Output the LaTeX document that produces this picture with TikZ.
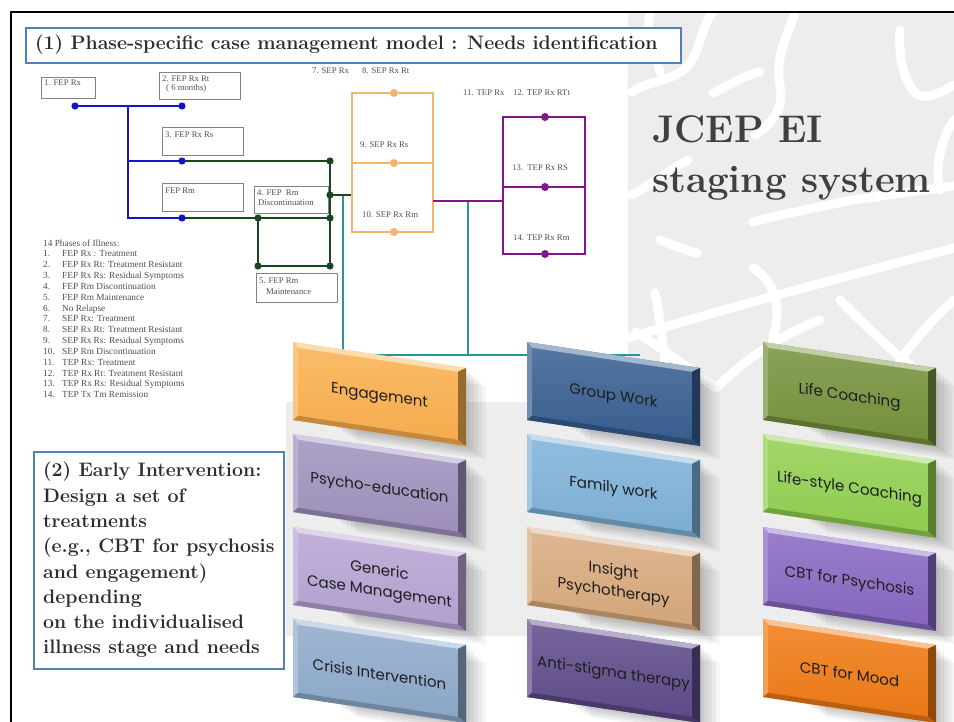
\documentclass[tikz,border=0pt]{standalone}
\usepackage{fontspec}
\newfontfamily\timesfont{Liberation Serif}
\newfontfamily\tilefont{Poppins}
\usetikzlibrary{calc}

\definecolor{backgray}{RGB}{237,237,237}
\definecolor{boxblue}{RGB}{79,129,189}
\definecolor{headtxt}{RGB}{45,45,45}
\definecolor{jcepgray}{RGB}{64,64,64}
\definecolor{phgray}{RGB}{80,80,80}
\definecolor{boxgray}{RGB}{130,130,130}
\definecolor{lineblue}{RGB}{20,20,200}
\definecolor{linegreen}{RGB}{25,70,30}
\definecolor{lineorange}{RGB}{245,180,110}
\definecolor{linepurple}{RGB}{130,20,140}
\definecolor{lineteal}{RGB}{40,150,150}
\definecolor{tiletxt}{RGB}{30,30,30}
% tile colours
\definecolor{cEngage}{RGB}{251,176,78}
\definecolor{cGroup}{RGB}{56,95,145}
\definecolor{cLife}{RGB}{118,146,60}
\definecolor{cPsyEdu}{RGB}{160,146,190}
\definecolor{cFamily}{RGB}{126,178,216}
\definecolor{cLifeStyle}{RGB}{146,208,80}
\definecolor{cGeneric}{RGB}{183,164,212}
\definecolor{cInsight}{RGB}{216,170,125}
\definecolor{cCbtPsy}{RGB}{136,104,194}
\definecolor{cCrisis}{RGB}{142,170,203}
\definecolor{cAnti}{RGB}{95,75,138}
\definecolor{cCbtMood}{RGB}{240,122,20}

\tikzset{
  framerule/.style={draw=black, line width=2.6pt},
  bluebox/.style={draw=boxblue, line width=2pt, fill=white, anchor=north west, inner sep=0pt},
  headtext/.style={font=\bfseries\fontsize{19.5}{25.3}\selectfont, text=headtxt, inner sep=0pt},
  phbox/.style={draw=boxgray, line width=0.9pt, fill=white, anchor=north west, inner sep=0pt},
  phtext/.style={font=\timesfont\fontsize{8.7}{10}\selectfont, text=phgray, anchor=base west, inner sep=0pt},
  legtext/.style={font=\timesfont\fontsize{9.3}{11}\selectfont, text=phgray, anchor=base west, inner sep=0pt},
  blueline/.style={draw=lineblue, line width=2.4pt},
  greenline/.style={draw=linegreen, line width=2.8pt},
  orangeline/.style={draw=lineorange, line width=2.4pt},
  purpleline/.style={draw=linepurple, line width=2.4pt},
  tealline/.style={draw=lineteal, line width=2pt},
  brainline/.style={draw=white, line width=9pt, line cap=round, line join=round},
  tiletext/.style={font=\tilefont\fontsize{15}{21}\selectfont, text=tiletxt, align=center, inner sep=0pt},
  jceptext/.style={font=\bfseries\fontsize{38.5}{50}\selectfont, text=jcepgray, anchor=base west, inner sep=0pt},
}

% bevelled, slanted treatment tile: name, left x, top y, colour, label
\newcommand{\tilebox}[5]{%
  \begin{scope}[shift={(#2,#3)}, yslant=-0.15]
    \foreach \k in {3,6,9,12,15}
      \fill[black, opacity=0.045] (40+\k*1.5,\k) rectangle (173+\k*1.3,78+\k*0.7);
    \shade[top color=#4!85!white, bottom color=#4!97!black] (0,0) rectangle (173,78);
    \fill[#4!45!white] (0,0) -- (173,0) -- (165,5) -- (5,5) -- cycle;
    \fill[#4!72!white] (0,0) -- (5,5) -- (5,73) -- (0,78) -- cycle;
    \fill[#4!60!black] (173,0) -- (173,78) -- (165,73) -- (165,5) -- cycle;
    \fill[#4!78!black] (0,78) -- (173,78) -- (165,73) -- (5,73) -- cycle;
    \node[tiletext, transform shape] (#1) at (86.5,42) {#5};
  \end{scope}}

\begin{document}
\begin{tikzpicture}[x=1pt,y=-1pt]
\useasboundingbox (0,0) rectangle (954,722);
\fill[white] (0,0) rectangle (954,722);

% grey backdrop with the white brain outline
\fill[backgray] (628,13) -- (954,13) -- (954,636) -- (286,636) -- (286,402) -- (628,402) -- cycle;
\begin{scope}
  \clip (628,13) -- (954,13) -- (954,636) -- (286,636) -- (286,402) -- (628,402) -- cycle;
  \draw[brainline] (632,92) .. controls (650,80) and (672,82) .. (688,66) .. controls (700,52) and (700,30) .. (712,13);
  \draw[brainline] (660,72) .. controls (655,50) and (645,35) .. (650,13);
  \draw[brainline] (713,93) .. controls (730,85) and (745,75) .. (760,72);
  \draw[brainline] (795,13) .. controls (785,40) and (775,60) .. (780,85) .. controls (785,110) and (770,125) .. (755,135);
  \draw[brainline] (900,30) .. controls (898,60) and (905,85) .. (918,95) .. controls (930,100) and (945,90) .. (954,85);
  \draw[brainline] (954,120) .. controls (940,140) and (935,170) .. (940,190);
  \draw[brainline] (632,195) .. controls (650,185) and (670,170) .. (688,160);
  \draw[brainline] (660,240) .. controls (672,245) and (685,250) .. (697,253);
  \draw[brainline] (753,222) .. controls (790,212) and (830,205) .. (853,200) .. controls (890,195) and (920,190) .. (954,186);
  \draw[brainline] (753,268) .. controls (770,278) and (782,300) .. (775,330) .. controls (770,345) and (772,360) .. (780,370);
  \draw[brainline] (628,338) .. controls (720,310) and (850,275) .. (954,248);
  \draw[brainline] (655,293) .. controls (660,315) and (662,340) .. (665,360);
  \draw[brainline] (636,332) .. controls (665,350) and (690,370) .. (716,388);
  \draw[brainline] (716,388) .. controls (745,360) and (780,335) .. (820,320);
  \draw[brainline] (840,300) .. controls (870,330) and (900,360) .. (930,380);
  \draw[brainline] (954,300) .. controls (920,330) and (890,370) .. (870,410);
\end{scope}

% slide frame
\coordinate (fr-tr) at (954,12);
\coordinate (fr-tl) at (11,12);
\coordinate (fr-bl) at (11,722);
\draw[framerule] (fr-tr) -- (fr-tl) -- (fr-bl);

% heading (1)
\node[bluebox, minimum width=655pt, minimum height=35pt] (titlebox) at (25,27) {};
\node[headtext, anchor=base west] (title) at (35,49.5) {(1) Phase-specific case management model : Needs identification};

% phase boxes
\node[phbox, minimum width=54pt, minimum height=21pt] (ph1) at (41,77) {};
\node[phtext] (ph1t) at (44,86) {1. FEP Rx};
\node[phbox, minimum width=81pt, minimum height=27pt] (ph2) at (159,72) {};
\node[phtext] (ph2t) at (162,82) {2. FEP Rx Rt};
\node[phtext] (ph2u) at (166,91) {( 6 months)};
\node[phbox, minimum width=81pt, minimum height=28pt] (ph3) at (162,127) {};
\node[phtext] (ph3t) at (165,138) {3. FEP Rx Rs};
\node[phbox, minimum width=81pt, minimum height=28pt] (phm) at (162,183) {};
\node[phtext] (phmt) at (165,194) {FEP Rm};
\node[phbox, minimum width=74pt, minimum height=27pt] (ph4) at (254,186) {};
\node[phtext] (ph4t) at (257,196) {4. FEP\ \ Rm};
\node[phtext] (ph4u) at (258,206) {Discontinuation};
\node[phbox, minimum width=81pt, minimum height=29pt] (ph5) at (256,273) {};
\node[phtext] (ph5t) at (259,284) {5. FEP Rm};
\node[phtext] (ph5u) at (266,295) {Maintenance};

% phase labels
\node[phtext] (s7) at (312,73.5) {7. SEP Rx};
\node[phtext] (s8) at (362,73.5) {8. SEP Rx Rt};
\node[phtext] (s9) at (360,148) {9. SEP Rx Rs};
\node[phtext] (s10) at (362,218) {10. SEP Rx Rm};
\node[phtext] (t11) at (463,96) {11. TEP Rx};
\node[phtext] (t12) at (513,96) {12. TEP Rx RTt};
\node[phtext] (t13) at (512,171) {13.\ \ TEP Rx RS};
\node[phtext] (t14) at (513,241) {14. TEP Rx Rm};

% junction points
\coordinate (b1) at (75,106);
\coordinate (b2) at (182,106);
\coordinate (bj) at (128,106);
\coordinate (bj3) at (128,161);
\coordinate (b3) at (182,161);
\coordinate (bj4) at (128,218);
\coordinate (b4) at (182,218);
\coordinate (g1) at (330,161);
\coordinate (g2) at (330,195);
\coordinate (g3) at (330,218);
\coordinate (g4) at (258,218);
\coordinate (g5) at (258,266);
\coordinate (g6) at (330,266);
\coordinate (gx) at (352,195);
\coordinate (o-tl) at (352,93);
\coordinate (o-br) at (433,232);
\coordinate (o-ml) at (352,163);
\coordinate (o-mr) at (433,163);
\coordinate (o1) at (394,93);
\coordinate (o2) at (394,163);
\coordinate (o3) at (394,232);
\coordinate (o-r) at (433,201);
\coordinate (p-l) at (503,201);
\coordinate (p-tl) at (503,117);
\coordinate (p-br) at (585,254);
\coordinate (p-ml) at (503,187);
\coordinate (p-mr) at (585,187);
\coordinate (p1) at (545,117);
\coordinate (p2) at (545,187);
\coordinate (p3) at (545,254);
\coordinate (t-a) at (343,195);
\coordinate (t-b) at (343,355);
\coordinate (t-c) at (640,355);
\coordinate (t-d) at (468,201);
\coordinate (t-e) at (468,355);

% teal link down to the treatment tiles
\draw[tealline] (t-a) -- (t-b) -- (t-c);
\draw[tealline] (t-d) -- (t-e);

% first episode (blue / green)
\draw[blueline] (b1) -- (b2);
\draw[blueline] (bj) -- (bj4) -- (b4);
\draw[blueline] (bj3) -- (b3);
\draw[greenline] (b3) -- (g1) -- (g6) -- (g5) -- (g4);
\draw[greenline] (b4) -- (g3);
\draw[greenline] (g2) -- (gx);
\foreach \c in {b1,b2,b3,b4} \fill[lineblue] (\c) circle (3.6pt);
\foreach \c in {g1,g2,g3,g4,g5,g6} \fill[linegreen] (\c) circle (3.6pt);

% second episode (orange)
\draw[orangeline] (o-tl) rectangle (o-br);
\draw[orangeline] (o-ml) -- (o-mr);
\foreach \c in {o1,o2,o3} \fill[lineorange] (\c) circle (4pt);

% third episode (purple)
\draw[purpleline] (o-r) -- (p-l);
\draw[purpleline] (p-tl) rectangle (p-br);
\draw[purpleline] (p-ml) -- (p-mr);
\foreach \c in {p1,p2,p3} \fill[linepurple] (\c) circle (4pt);

% legend
\node[legtext] (leghead) at (43,247) {14 Phases of Illness:};
\foreach \t [count=\i] in {FEP Rx : Treatment, FEP Rx Rt: Treatment Resistant,
    FEP Rx Rs: Residual Symptoms, FEP Rm Discontinuation, FEP Rm Maintenance,
    No Relapse, SEP Rx: Treatment, SEP Rx Rt: Treatment Resistant,
    SEP Rx Rs: Residual Symptoms, SEP Rm Discontinuation, TEP Rx: Treatment,
    TEP Rx Rt: Treatment Resistant, TEP Rx Rs: Residual Symptoms, TEP Tx Tm Remission} {
  \node[legtext] (legn\i) at (43,{257+(\i-1)*10.82}) {\i.};
  \node[legtext] (legt\i) at (62,{257+(\i-1)*10.82}) {\t};
}

% treatment tiles
\tilebox{engage}{293}{342}{cEngage}{Engagement}
\tilebox{group}{527}{342}{cGroup}{Group Work}
\tilebox{lifec}{763}{342}{cLife}{Life Coaching}
\tilebox{psyedu}{293}{434}{cPsyEdu}{Psycho-education}
\tilebox{family}{527}{434}{cFamily}{Family work}
\tilebox{lifestyle}{763}{434}{cLifeStyle}{Life-style Coaching}
\tilebox{generic}{293}{527}{cGeneric}{Generic\\Case Management}
\tilebox{insight}{527}{527}{cInsight}{Insight\\Psychotherapy}
\tilebox{cbtpsy}{763}{527}{cCbtPsy}{CBT for Psychosis}
\tilebox{crisis}{293}{619}{cCrisis}{Crisis Intervention}
\tilebox{anti}{527}{619}{cAnti}{Anti-stigma therapy}
\tilebox{cbtmood}{763}{619}{cCbtMood}{CBT for Mood}

% heading (2)
\node[bluebox, minimum width=250pt, minimum height=217pt] (eibox) at (33,451) {};
\node[headtext, anchor=north west, align=left] (eitext) at (43,462) {(2) Early Intervention:\\Design a set of\\treatments\\(e.g., CBT for psychosis\\and engagement)\\depending\\on the individualised\\illness stage and needs};

% title on the right
\node[jceptext] (jcep1) at (652,143) {JCEP EI};
\node[jceptext] (jcep2) at (652,193) {staging system};
\end{tikzpicture}
\end{document}
